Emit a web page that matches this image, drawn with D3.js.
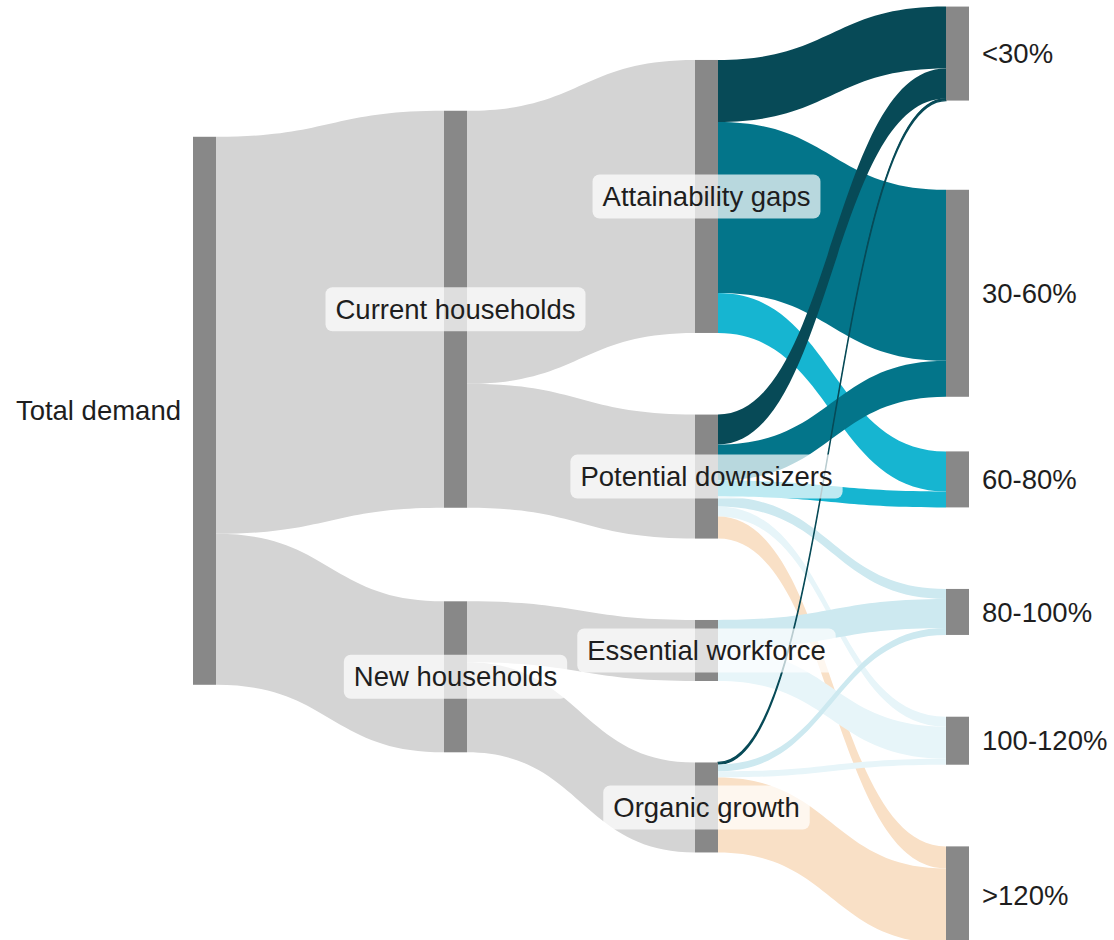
<!DOCTYPE html>
<html>
<head>
<meta charset="utf-8">
<script src="https://cdn.jsdelivr.net/npm/d3@7"></script>
<style>
  body { margin: 0; background: #fff; }
  text { font-family: "Liberation Sans", Arial, sans-serif; }
</style>
</head>
<body>
<script>
// nodes
const nodeNames = ["Total demand", "Current households", "New households",
  "Attainability gaps", "Potential downsizers", "Essential workforce", "Organic growth",
  "<30%", "30-60%", "60-80%", "80-100%", "100-120%", ">120%"];
const nodeColumn = [0, 1, 1, 2, 2, 2, 2, 3, 3, 3, 3, 3, 3];

// flows (source index, target index, value)
const linkSource = [0, 0, 1, 1, 2, 2, 3, 3, 3, 4, 4, 4, 4, 4, 4, 5, 5, 6, 6, 6, 6];
const linkTarget = [1, 2, 3, 4, 5, 6, 7, 8, 9, 7, 8, 9, 10, 11, 12, 10, 11, 7, 10, 11, 12];
const linkValue  = [397, 151, 273, 124, 61, 90, 62, 171, 40, 30, 36, 16, 10, 10, 22, 29, 32, 2, 7, 6, 75];

// node arrangement (vertical centre, fraction of the canvas), like plotly node.y
const nodeYFrac = [0.437, 0.329, 0.720, 0.209, 0.507, 0.692, 0.859,
  0.057, 0.312, 0.510, 0.651, 0.788, 0.952];

const bandColor = {
  "<30%": "#074a57", "30-60%": "#03758a", "60-80%": "#16b5d1",
  "80-100%": "#cde9f0", "100-120%": "#e7f5f9", ">120%": "#f9e0c6"
};

const W = 1114, H = 940, nodeW = 23;

const svg = d3.select("body").append("svg")
  .attr("width", W).attr("height", H);

const x = d3.scalePoint().domain([0, 1, 2, 3]).range([193, 946]);
const y = d3.scaleLinear().domain([0, 1]).range([0, H]);
const k = d3.scaleLinear().domain([0, d3.sum(linkValue.slice(0, 2))]).range([0, 548]);

const links = linkValue.map((v, i) => ({ s: linkSource[i], t: linkTarget[i], value: v }));
const nodes = nodeNames.map((name, i) => {
  const outV = d3.sum(links.filter(l => l.s === i), l => l.value);
  const inV = d3.sum(links.filter(l => l.t === i), l => l.value);
  const h = k(Math.max(outV, inV));
  const cy = y(nodeYFrac[i]);
  return { name, i, col: nodeColumn[i], x0: x(nodeColumn[i]), y0: cy - h / 2, h, cy };
});

// stack links at each node
nodes.forEach(n => {
  let off = n.y0;
  links.filter(l => l.s === n.i)
    .sort((a, b) => nodes[a.t].cy - nodes[b.t].cy)
    .forEach(l => { l.sy = off; off += k(l.value); });
  off = n.y0;
  links.filter(l => l.t === n.i)
    .sort((a, b) => nodes[a.s].cy - nodes[b.s].cy)
    .forEach(l => { l.ty = off; off += k(l.value); });
});

function linkPath(l) {
  const x0 = nodes[l.s].x0 + nodeW, x1 = nodes[l.t].x0;
  const xm = (x0 + x1) / 2, w = k(l.value);
  return `M${x0},${l.sy}C${xm},${l.sy} ${xm},${l.ty} ${x1},${l.ty}` +
    `L${x1},${l.ty + w}C${xm},${l.ty + w} ${xm},${l.sy + w} ${x0},${l.sy + w}Z`;
}

const linkFill = l => bandColor[nodeNames[l.t]] || "#d4d4d4";

svg.append("g")
  .selectAll("path")
  .data(links)
  .enter()
  .append("path")
  .attr("d", linkPath)
  .attr("fill", linkFill)
  // very thin flows would vanish on the steep part, give them an outline
  .attr("stroke", l => l.value < 5 ? linkFill(l) : "none")
  .attr("stroke-width", 1.2);

svg.append("g")
  .selectAll("rect")
  .data(nodes)
  .enter()
  .append("rect")
  .attr("x", n => n.x0)
  .attr("y", n => n.y0)
  .attr("width", nodeW)
  .attr("height", n => n.h)
  .attr("fill", "#888888");

// labels
const lab = svg.append("g")
  .selectAll("g")
  .data(nodes)
  .enter()
  .append("g");

lab.append("rect").attr("class", "bg");
lab.append("text")
  .attr("x", n => n.col === 0 ? n.x0 - 12 : n.col === 3 ? n.x0 + nodeW + 13 : n.x0 + nodeW / 2)
  .attr("y", n => n.cy)
  .attr("dy", "0.35em")
  .attr("text-anchor", n => n.col === 0 ? "end" : n.col === 3 ? "start" : "middle")
  .attr("font-size", 27.5)
  .attr("fill", "#1e1e1e")
  .text(n => n.name);

lab.each(function (n) {
  if (n.col === 0 || n.col === 3) return;
  const g = d3.select(this);
  const tw = g.select("text").node().getComputedTextLength();
  g.select("rect.bg")
    .attr("x", n.x0 + nodeW / 2 - tw / 2 - 10)
    .attr("y", n.cy - 22)
    .attr("width", tw + 20)
    .attr("height", 44)
    .attr("rx", 7)
    .attr("fill", "#fff")
    .attr("fill-opacity", 0.72);
});
</script>
</body>
</html>
